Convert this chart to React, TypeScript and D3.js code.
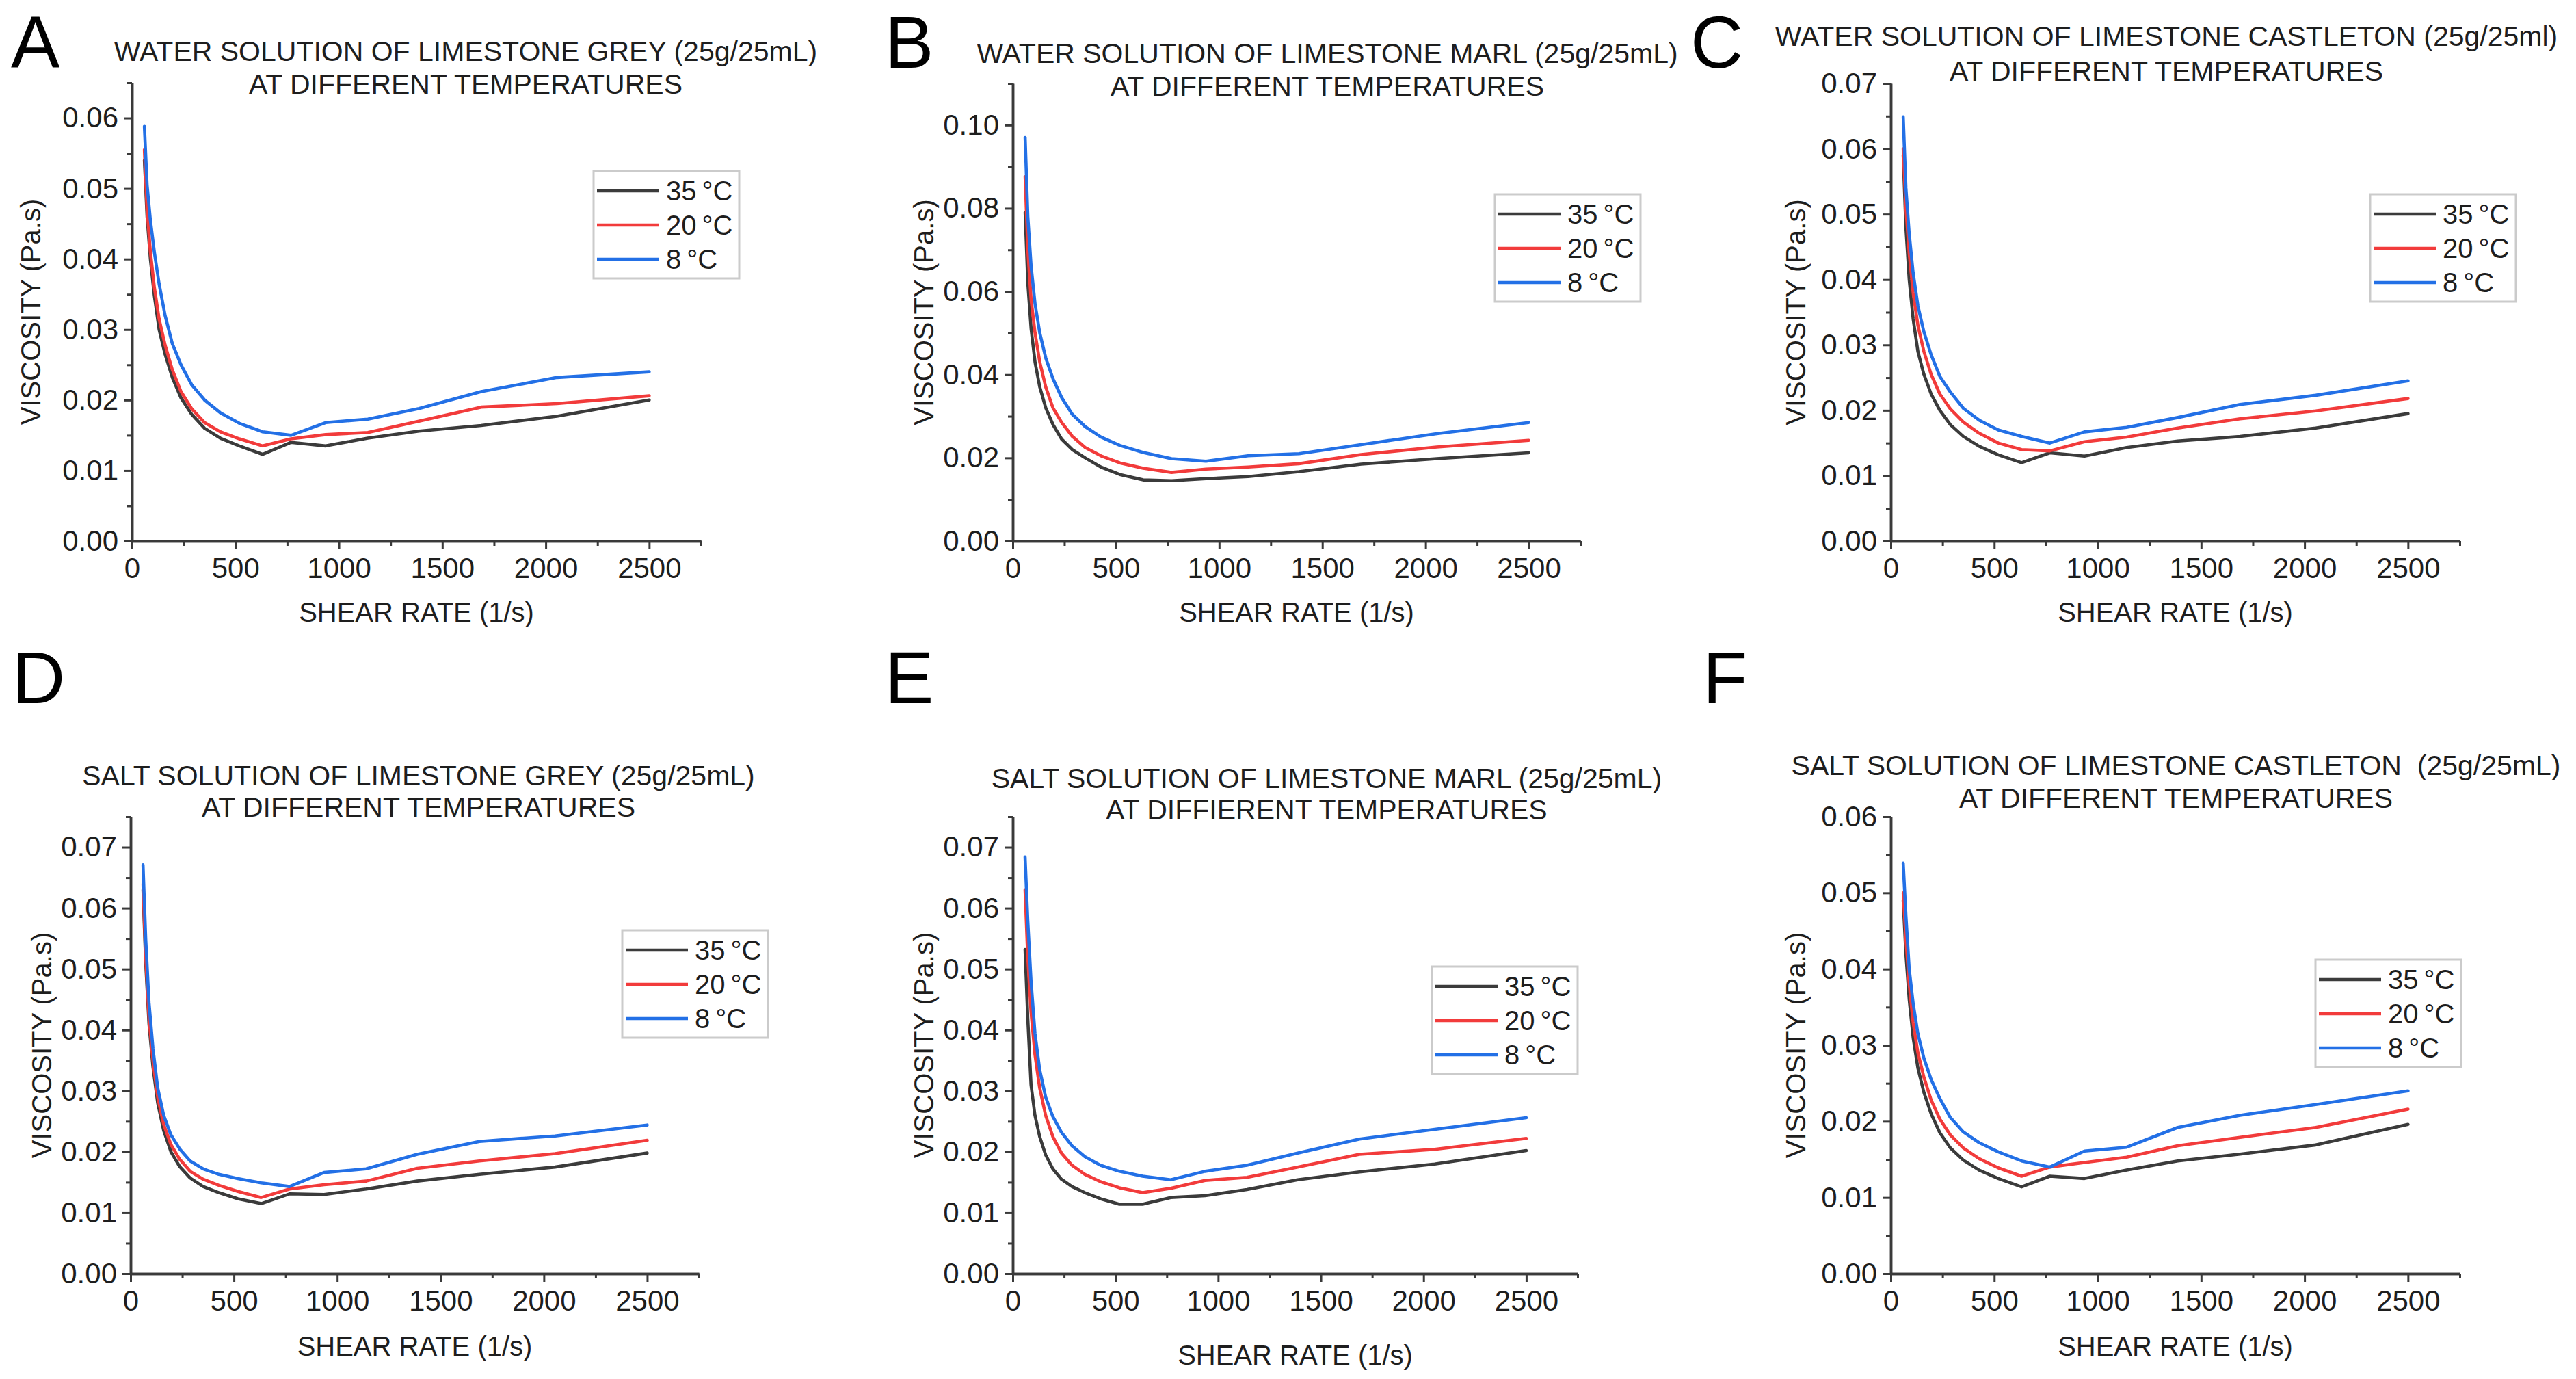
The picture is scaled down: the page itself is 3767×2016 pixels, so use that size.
import React, { useEffect, useRef } from 'react';
import * as d3 from 'd3';

// shear rates shared by every run (1/s)
const shearRate = [60, 73, 89, 108, 131, 160, 195, 237, 288, 351, 427, 519, 632, 769, 936, 1140, 1387, 1688, 2054, 2500];

const temperatures = ['35\u2009°C', '20\u2009°C', '8\u2009°C'];

const panelLetters = ['A', 'B', 'C', 'D', 'E', 'F'];

const titleLine1 = [
  'WATER SOLUTION OF LIMESTONE GREY (25g/25mL)',
  'WATER SOLUTION OF LIMESTONE MARL (25g/25mL)',
  'WATER SOLUTION OF LIMESTONE CASTLETON (25g/25ml)',
  'SALT SOLUTION OF LIMESTONE GREY (25g/25mL)',
  'SALT SOLUTION OF LIMESTONE MARL (25g/25mL)',
  'SALT SOLUTION OF LIMESTONE CASTLETON  (25g/25mL)',
];

const titleLine2 = [
  'AT DIFFERENT TEMPERATURES',
  'AT DIFFERENT TEMPERATURES',
  'AT DIFFERENT TEMPERATURES',
  'AT DIFFERENT TEMPERATURES',
  'AT DIFFIERENT TEMPERATURES',
  'AT DIFFERENT TEMPERATURES',
];

// viscosity (Pa.s), one array per panel and temperature
const viscA35 = [0.054, 0.046, 0.040, 0.0348, 0.030, 0.0265, 0.0232, 0.0203, 0.0180, 0.0160, 0.0146, 0.0135, 0.0123, 0.0140, 0.0135, 0.0146, 0.0156, 0.0164, 0.0177, 0.0200];
const viscA20 = [0.0555, 0.047, 0.041, 0.036, 0.0315, 0.0278, 0.0243, 0.0212, 0.0188, 0.0168, 0.0155, 0.0145, 0.0135, 0.0145, 0.0151, 0.0154, 0.0170, 0.0190, 0.0195, 0.0206];
const viscA8 = [0.0588, 0.0505, 0.0455, 0.0410, 0.0365, 0.0320, 0.0280, 0.0250, 0.0222, 0.0200, 0.0182, 0.0167, 0.0155, 0.0150, 0.0168, 0.0173, 0.0188, 0.0212, 0.0232, 0.0240];

const viscB35 = [0.079, 0.062, 0.051, 0.043, 0.037, 0.032, 0.028, 0.0245, 0.022, 0.020, 0.0178, 0.0160, 0.0147, 0.0145, 0.0150, 0.0155, 0.0167, 0.0185, 0.0198, 0.0212];
const viscB20 = [0.0876, 0.070, 0.058, 0.050, 0.043, 0.037, 0.032, 0.0285, 0.0252, 0.0225, 0.0205, 0.0188, 0.0175, 0.0165, 0.0173, 0.0178, 0.0186, 0.0208, 0.0226, 0.0242];
const viscB8 = [0.097, 0.078, 0.066, 0.057, 0.050, 0.044, 0.039, 0.0345, 0.0305, 0.0275, 0.0250, 0.0230, 0.0213, 0.0198, 0.0192, 0.0205, 0.0210, 0.0232, 0.0258, 0.0285];

const viscC35 = [0.059, 0.048, 0.040, 0.034, 0.029, 0.0255, 0.0225, 0.020, 0.0178, 0.0160, 0.0145, 0.0132, 0.0120, 0.0135, 0.0130, 0.0143, 0.0153, 0.0160, 0.0173, 0.0195];
const viscC20 = [0.060, 0.051, 0.044, 0.038, 0.033, 0.029, 0.0255, 0.0225, 0.0202, 0.0182, 0.0165, 0.0150, 0.0140, 0.0138, 0.0152, 0.0159, 0.0173, 0.0187, 0.0199, 0.0218];
const viscC8 = [0.0649, 0.054, 0.047, 0.041, 0.036, 0.032, 0.0285, 0.0252, 0.0228, 0.0203, 0.0185, 0.0170, 0.0160, 0.0150, 0.0167, 0.0174, 0.0189, 0.0209, 0.0223, 0.0245];

const viscD35 = [0.063, 0.051, 0.041, 0.034, 0.028, 0.0235, 0.020, 0.0176, 0.0157, 0.0143, 0.0133, 0.0123, 0.0115, 0.0131, 0.0130, 0.0139, 0.0152, 0.0163, 0.0175, 0.0198];
const viscD20 = [0.064, 0.052, 0.042, 0.035, 0.029, 0.0245, 0.0212, 0.0188, 0.0168, 0.0155, 0.0145, 0.0135, 0.0125, 0.0139, 0.0146, 0.0152, 0.0173, 0.0185, 0.0197, 0.0219];
const viscD8 = [0.0671, 0.055, 0.0445, 0.037, 0.0305, 0.026, 0.0228, 0.0205, 0.0185, 0.0172, 0.0163, 0.0156, 0.0149, 0.0143, 0.0166, 0.0172, 0.0196, 0.0217, 0.0226, 0.0244];

const viscE35 = [0.0532, 0.042, 0.031, 0.026, 0.0225, 0.0195, 0.0172, 0.0155, 0.0143, 0.0133, 0.0123, 0.0114, 0.0114, 0.0125, 0.0128, 0.0138, 0.0154, 0.0167, 0.0180, 0.0202];
const viscE20 = [0.063, 0.052, 0.043, 0.036, 0.0305, 0.026, 0.0225, 0.0198, 0.0178, 0.0163, 0.0151, 0.0141, 0.0133, 0.0140, 0.0153, 0.0158, 0.0175, 0.0196, 0.0204, 0.0222];
const viscE8 = [0.0684, 0.058, 0.048, 0.0395, 0.0335, 0.0290, 0.0258, 0.0232, 0.0210, 0.0192, 0.0178, 0.0168, 0.0160, 0.0154, 0.0168, 0.0178, 0.0198, 0.0221, 0.0237, 0.0256];

const viscF35 = [0.049, 0.042, 0.036, 0.031, 0.027, 0.0238, 0.0210, 0.0185, 0.0165, 0.0149, 0.0136, 0.0125, 0.0114, 0.0128, 0.0125, 0.0136, 0.0148, 0.0157, 0.0169, 0.0196];
const viscF20 = [0.050, 0.044, 0.038, 0.033, 0.029, 0.0258, 0.0228, 0.0203, 0.0182, 0.0165, 0.0151, 0.0139, 0.0128, 0.0140, 0.0146, 0.0153, 0.0168, 0.0179, 0.0192, 0.0216];
const viscF8 = [0.0539, 0.047, 0.040, 0.0355, 0.0315, 0.0283, 0.0255, 0.0230, 0.0205, 0.0186, 0.0172, 0.0160, 0.0148, 0.0140, 0.0161, 0.0166, 0.0192, 0.0208, 0.0222, 0.0240];

const panelSeries = [
  [viscA35, viscA20, viscA8],
  [viscB35, viscB20, viscB8],
  [viscC35, viscC20, viscC8],
  [viscD35, viscD20, viscD8],
  [viscE35, viscE20, viscE8],
  [viscF35, viscF20, viscF8],
];

// y axis: top of axis and major step; minor ticks sit halfway
const yAxisMax = [0.065, 0.11, 0.07, 0.075, 0.075, 0.06];
const yMajorStep = [0.01, 0.02, 0.01, 0.01, 0.01, 0.01];
const xAxisMax = 2750;
const xMajorTicks = [0, 500, 1000, 1500, 2000, 2500];
const xMinorTicks = [250, 750, 1250, 1750, 2250, 2750];

// layout in page pixels
const layout = [
  { left: 193, right: 1025, top: 121, bottom: 791, titleX: 681, t1: 89, t2: 137, letterX: 16, letterY: 99, legX: 868, legY: 250, yLabX: 59, xLabY: 909 },
  { left: 1481, right: 2311, top: 122, bottom: 791, titleX: 1941, t1: 92, t2: 140, letterX: 1294, letterY: 99, legX: 2186, legY: 284, yLabX: 1365, xLabY: 909 },
  { left: 2765, right: 3597, top: 122, bottom: 791, titleX: 3168, t1: 67, t2: 118, letterX: 2472, letterY: 99, legX: 3466, legY: 284, yLabX: 2640, xLabY: 909 },
  { left: 191, right: 1022, top: 1194, bottom: 1862, titleX: 612, t1: 1148, t2: 1194, letterX: 18, letterY: 1028, legX: 910, legY: 1360, yLabX: 75, xLabY: 1982 },
  { left: 1481, right: 2307, top: 1194, bottom: 1862, titleX: 1940, t1: 1152, t2: 1198, letterX: 1294, letterY: 1028, legX: 2094, legY: 1413, yLabX: 1365, xLabY: 1995 },
  { left: 2765, right: 3597, top: 1194, bottom: 1862, titleX: 3182, t1: 1133, t2: 1181, letterX: 2490, letterY: 1028, legX: 3386, legY: 1403, yLabX: 2640, xLabY: 1982 },
];

const lineColors = ['#3b3b3b', '#f23b3b', '#2370e6'];
const textColor = '#1e1e1e';
const axisColor = '#3a3a3a';
const font = '"Liberation Sans", Arial, sans-serif';

const W = 3767;
const H = 2016;

const App: React.FC = () => {
  const svgRef = useRef<SVGSVGElement>(null);

  useEffect(() => {
    if (!svgRef.current) return;
    const svg = d3.select(svgRef.current);
    svg.selectAll('*').remove();

    svg.append('rect').attr('width', W).attr('height', H).attr('fill', '#fff');

    layout.forEach((p, i) => {
      const g = svg.append('g');
      const x = d3.scaleLinear().domain([0, xAxisMax]).range([p.left, p.right]);
      const y = d3.scaleLinear().domain([0, yAxisMax[i]]).range([p.bottom, p.top]);

      const step = yMajorStep[i];
      const eps = 1e-9;
      const yMajor = d3.range(0, yAxisMax[i] + eps, step);
      const yMinor = d3.range(step / 2, yAxisMax[i] + eps, step);

      // panel letter
      g.append('text')
        .attr('x', p.letterX).attr('y', p.letterY)
        .attr('font-family', font).attr('font-size', 107)
        .attr('fill', '#000')
        .text(panelLetters[i]);

      // title, two lines
      [titleLine1[i], titleLine2[i]].forEach((t, k) => {
        g.append('text')
          .attr('x', p.titleX).attr('y', k === 0 ? p.t1 : p.t2)
          .attr('text-anchor', 'middle')
          .attr('font-family', font).attr('font-size', 41)
          .attr('fill', textColor)
          .style('white-space', 'pre')
          .text(t);
      });

      // minor ticks first, then major ticks with labels
      const yMinorAxis = d3.axisLeft(y).tickValues(yMinor).tickSize(7).tickSizeOuter(0).tickFormat(() => '');
      const xMinorAxis = d3.axisBottom(x).tickValues(xMinorTicks).tickSize(7).tickSizeOuter(0).tickFormat(() => '');
      const yMajorAxis = d3.axisLeft(y).tickValues(yMajor).tickSize(12).tickSizeOuter(0).tickPadding(8)
        .tickFormat(d => d3.format('.2f')(d as number));
      const xMajorAxis = d3.axisBottom(x).tickValues(xMajorTicks).tickSize(12).tickSizeOuter(0).tickPadding(12)
        .tickFormat(d => String(d));

      const styleAxis = (sel: d3.Selection<SVGGElement, unknown, null, undefined>) => {
        sel.select('.domain').attr('stroke', axisColor).attr('stroke-width', 3.5);
        sel.selectAll('.tick line').attr('stroke', axisColor).attr('stroke-width', 3);
        sel.selectAll('.tick text')
          .attr('fill', textColor)
          .attr('font-family', font)
          .attr('font-size', 42);
      };

      g.append('g').attr('transform', `translate(${p.left},0)`).call(yMinorAxis).call(styleAxis);
      g.append('g').attr('transform', `translate(0,${p.bottom})`).call(xMinorAxis).call(styleAxis);
      g.append('g').attr('transform', `translate(${p.left},0)`).call(yMajorAxis).call(styleAxis);
      g.append('g').attr('transform', `translate(0,${p.bottom})`).call(xMajorAxis).call(styleAxis);

      // axis titles
      g.append('text')
        .attr('transform', `translate(${p.yLabX},${(p.top + p.bottom) / 2}) rotate(-90)`)
        .attr('text-anchor', 'middle')
        .attr('font-family', font).attr('font-size', 40)
        .attr('fill', textColor)
        .text('VISCOSITY (Pa.s)');
      g.append('text')
        .attr('x', (p.left + p.right) / 2).attr('y', p.xLabY)
        .attr('text-anchor', 'middle')
        .attr('font-family', font).attr('font-size', 40)
        .attr('fill', textColor)
        .text('SHEAR RATE (1/s)');

      // curves
      const line = d3.line<number>()
        .x((_, k) => x(shearRate[k]))
        .y(d => y(d))
        .curve(d3.curveLinear);

      panelSeries[i].forEach((vals, s) => {
        g.append('path')
          .attr('d', line(vals))
          .attr('fill', 'none')
          .attr('stroke', lineColors[s])
          .attr('stroke-width', 4.6)
          .attr('stroke-linejoin', 'round')
          .attr('stroke-linecap', 'round');
      });

      // legend
      const leg = g.append('g').attr('transform', `translate(${p.legX},${p.legY})`);
      leg.append('rect')
        .attr('width', 213).attr('height', 157)
        .attr('fill', '#fff')
        .attr('stroke', '#cbcbcb').attr('stroke-width', 3);
      temperatures.forEach((t, s) => {
        const ry = 29 + s * 50;
        leg.append('line')
          .attr('x1', 5).attr('x2', 96).attr('y1', ry).attr('y2', ry)
          .attr('stroke', lineColors[s]).attr('stroke-width', 4.6);
        leg.append('text')
          .attr('x', 106).attr('y', ry).attr('dy', '0.36em')
          .attr('font-family', font).attr('font-size', 40)
          .attr('fill', textColor)
          .text(t);
      });
    });
  }, []);

  return (
    <svg
      ref={svgRef}
      width={W}
      height={H}
      style={{ position: 'absolute', left: 0, top: 0, display: 'block' }}
    />
  );
};

export default App;
